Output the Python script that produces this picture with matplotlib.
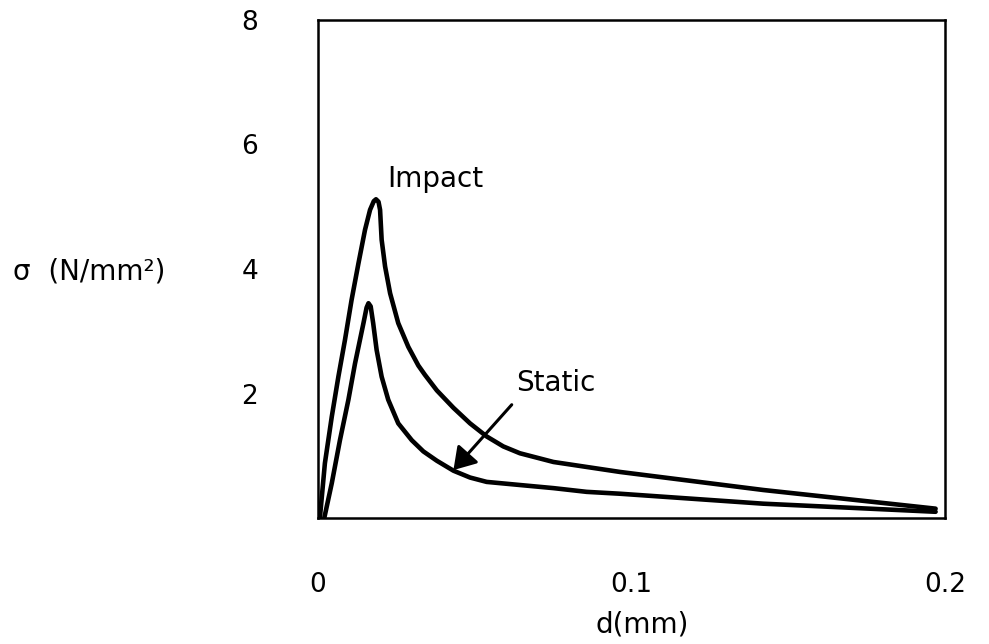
import numpy as np
import matplotlib
matplotlib.use("Agg")
import matplotlib.pyplot as plt

# stress-displacement curves (d in mm, sigma in N/mm2)
impact_d = [0.0006, 0.0022, 0.0044, 0.0065, 0.0086, 0.0107, 0.0129, 0.0150, 0.0166,
            0.0178, 0.0185, 0.0193, 0.0198, 0.0203, 0.0214, 0.0230, 0.0256, 0.0288,
            0.0320, 0.0341, 0.0379, 0.0432, 0.0485, 0.0538, 0.0591, 0.0644, 0.0751,
            0.0857, 0.0963, 0.142, 0.197]
impact_s = [0.0, 0.88, 1.63, 2.27, 2.86, 3.50, 4.09, 4.63, 4.95,
            5.09, 5.12, 5.08, 4.95, 4.47, 4.04, 3.61, 3.13, 2.75,
            2.45, 2.30, 2.05, 1.77, 1.52, 1.31, 1.15, 1.04, 0.90,
            0.82, 0.74, 0.45, 0.15]

static_d = [0.0020, 0.0044, 0.0070, 0.0097, 0.0118, 0.0145, 0.0155, 0.0161, 0.0168,
            0.0176, 0.0187, 0.0203, 0.0224, 0.0256, 0.0299, 0.0336, 0.0379, 0.0432,
            0.0485, 0.0538, 0.0644, 0.0751, 0.0857, 0.0963, 0.142, 0.197]
static_s = [0.0, 0.56, 1.25, 1.90, 2.48, 3.13, 3.38, 3.45, 3.40,
            3.13, 2.70, 2.27, 1.90, 1.52, 1.25, 1.07, 0.92, 0.76,
            0.65, 0.58, 0.53, 0.48, 0.42, 0.39, 0.23, 0.10]

x_ticks = [0, 0.1, 0.2]
x_tick_labels = ["0", "0.1", "0.2"]
y_ticks = [2, 4, 6, 8]
y_tick_labels = ["2", "4", "6", "8"]

fig = plt.figure(figsize=(9.89, 6.44), dpi=100)
ax = fig.add_axes([318 / 989, 126 / 644, 627 / 989, 498 / 644])

line_kw = dict(color="black", lw=3.3, solid_capstyle="round", solid_joinstyle="round")
ax.plot(impact_d, impact_s, **line_kw)
ax.plot(static_d, static_s, **line_kw)

ax.set_xlim(0, 0.2)
ax.set_ylim(0, 8)

ax.set_xticks(x_ticks)
ax.set_xticklabels(x_tick_labels)
ax.set_yticks(y_ticks)
ax.set_yticklabels(y_tick_labels)
ax.tick_params(axis="both", length=0, labelsize=19)
ax.tick_params(axis="x", pad=39)
ax.tick_params(axis="y", pad=43)

for sp in ax.spines.values():
    sp.set_linewidth(1.8)

ax.set_xlabel("d(mm)", fontsize=20, va="center")
ax.xaxis.set_label_coords(0.517, -0.213)
ax.set_ylabel("σ  (N/mm²)", fontsize=20, rotation=0, ha="left", va="center")
ax.yaxis.set_label_coords(-0.487, 0.494)

ax.text(0.0373, 5.45, "Impact", fontsize=20, ha="center", va="center")
ax.text(0.0758, 2.17, "Static", fontsize=20, ha="center", va="center")
ax.annotate("", xy=(0.0432, 0.77), xytext=(0.0618, 1.82),
            arrowprops=dict(arrowstyle="-|>,head_length=0.55,head_width=0.35",
                            color="black", lw=2.2, mutation_scale=24,
                            shrinkA=0, shrinkB=0))

fig.savefig("out.png", dpi=100)
